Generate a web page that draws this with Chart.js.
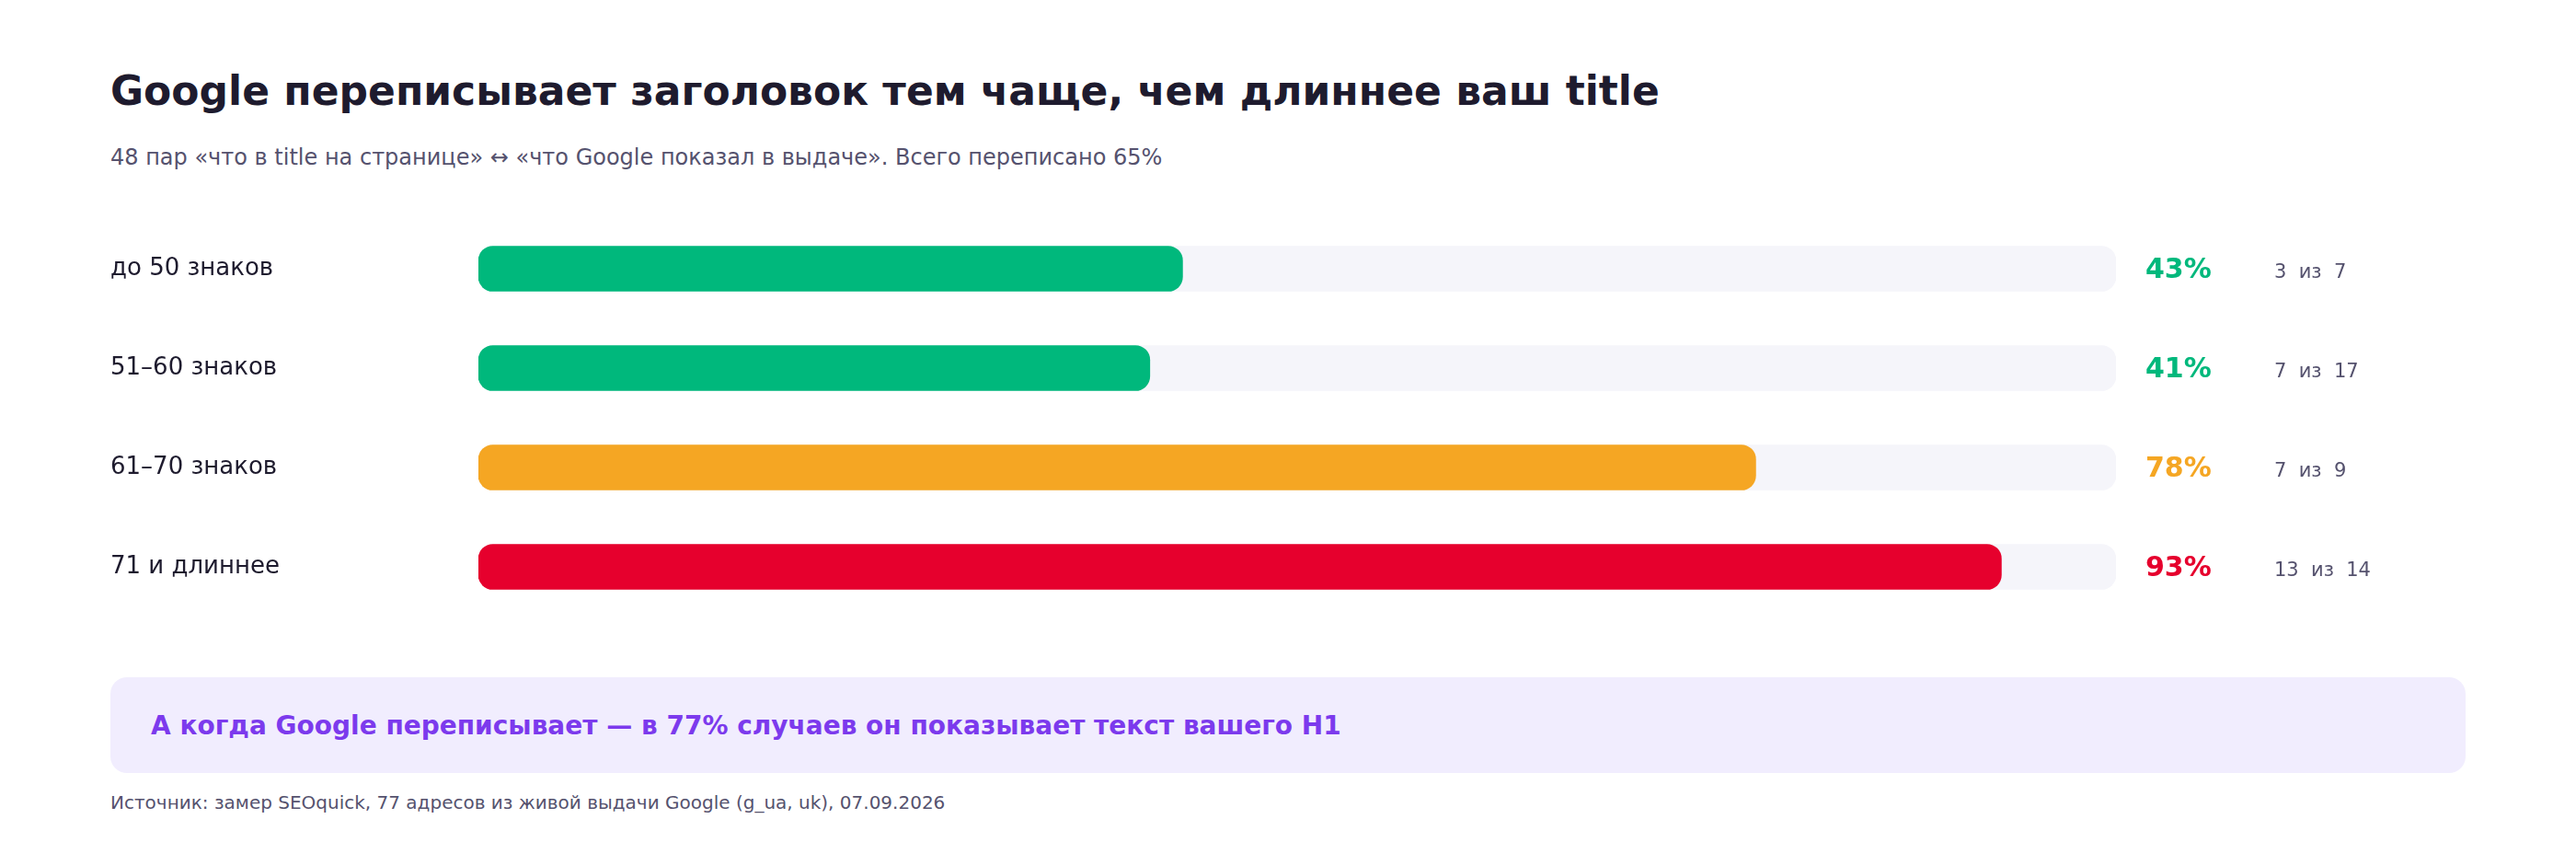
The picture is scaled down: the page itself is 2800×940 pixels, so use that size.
<!DOCTYPE html>
<html lang="ru">
<head>
<meta charset="utf-8">
<script src="https://cdn.jsdelivr.net/npm/chart.js@4.4.1/dist/chart.umd.min.js"></script>
<style>
  html, body { margin: 0; padding: 0; background: #ffffff; }
  body { width: 2800px; height: 940px; position: relative; overflow: hidden; font-family: "DejaVu Sans", sans-serif; }
  .abs { position: absolute; white-space: nowrap; line-height: 1; }
  #title { left: 120px; top: 77px; font-size: 44px; font-weight: bold; color: #1e1b2e; }
  #subtitle { left: 120px; top: 159px; font-size: 24px; color: #55526e; }
  #callout { left: 120px; top: 736px; width: 2560px; height: 104px; background: #f1edfe; border-radius: 18px; }
  #callout span { position: absolute; left: 44px; top: 39px; font-size: 28px; font-weight: bold; color: #7c3aed; line-height: 1; white-space: nowrap; }
  #footer { left: 120px; top: 862px; font-size: 20px; color: #55526e; }
  #chart { position: absolute; left: 0; top: 225px; }
</style>
</head>
<body>
<div id="title" class="abs">Google переписывает заголовок тем чаще, чем длиннее ваш title</div>
<div id="subtitle" class="abs">48 пар «что в title на странице» ↔ «что Google показал в выдаче». Всего переписано 65%</div>
<canvas id="chart" width="2800" height="458"></canvas>
<div id="callout" class="abs"><span>А когда Google переписывает — в 77% случаев он показывает текст вашего H1</span></div>
<div id="footer" class="abs">Источник: замер SEOquick, 77 адресов из живой выдачи Google (g_ua, uk), 07.09.2026</div>
<script>
const categories = ["до 50 знаков", "51–60 знаков", "61–70 знаков", "71 и длиннее"];
const rewrittenShare = [43, 41, 78, 93];
const rewrittenCount = [3, 7, 7, 13];
const totalCount = [7, 17, 9, 14];
const barColors = ["#00b87c", "#00b87c", "#f5a623", "#e6002d"];
const trackFull = categories.map(() => 100);

const valueLabels = {
  id: 'valueLabels',
  afterDatasetsDraw(chart) {
    const ctx = chart.ctx;
    const meta = chart.getDatasetMeta(0);
    ctx.save();
    ctx.textBaseline = 'alphabetic';
    ctx.textAlign = 'left';
    meta.data.forEach((bar, i) => {
      ctx.font = 'bold 30px "DejaVu Sans"';
      ctx.fillStyle = barColors[i];
      ctx.fillText(rewrittenShare[i] + '%', 2332, bar.y + 10);
      ctx.font = '21px "DejaVu Sans"';
      ctx.fillStyle = '#55526e';
      ctx.fillText(rewrittenCount[i] + '  из  ' + totalCount[i], 2472, bar.y + 10);
    });
    ctx.restore();
  }
};

new Chart(document.getElementById('chart'), {
  type: 'bar',
  data: {
    labels: categories,
    datasets: [
      {
        data: rewrittenShare,
        backgroundColor: barColors,
        borderRadius: 16,
        borderSkipped: false,
        barThickness: 49,
        grouped: false,
        order: 1
      },
      {
        data: trackFull,
        backgroundColor: '#f5f5fa',
        borderRadius: 16,
        borderSkipped: false,
        barThickness: 49,
        grouped: false,
        order: 2
      }
    ]
  },
  options: {
    indexAxis: 'y',
    responsive: false,
    animation: false,
    devicePixelRatio: 1,
    layout: { padding: { left: 120, right: 500, top: 13, bottom: 13 } },
    plugins: { legend: { display: false }, tooltip: { enabled: false }, title: { display: false } },
    scales: {
      x: { min: 0, max: 100, display: false },
      y: {
        grid: { display: false },
        border: { display: false },
        ticks: {
          crossAlign: 'far',
          padding: 0,
          color: '#1e1b2e',
          font: { family: '"DejaVu Sans"', size: 26, lineHeight: 1 }
        },
        afterFit(scale) { scale.width = 400; }
      }
    }
  },
  plugins: [valueLabels]
});
</script>
</body>
</html>
